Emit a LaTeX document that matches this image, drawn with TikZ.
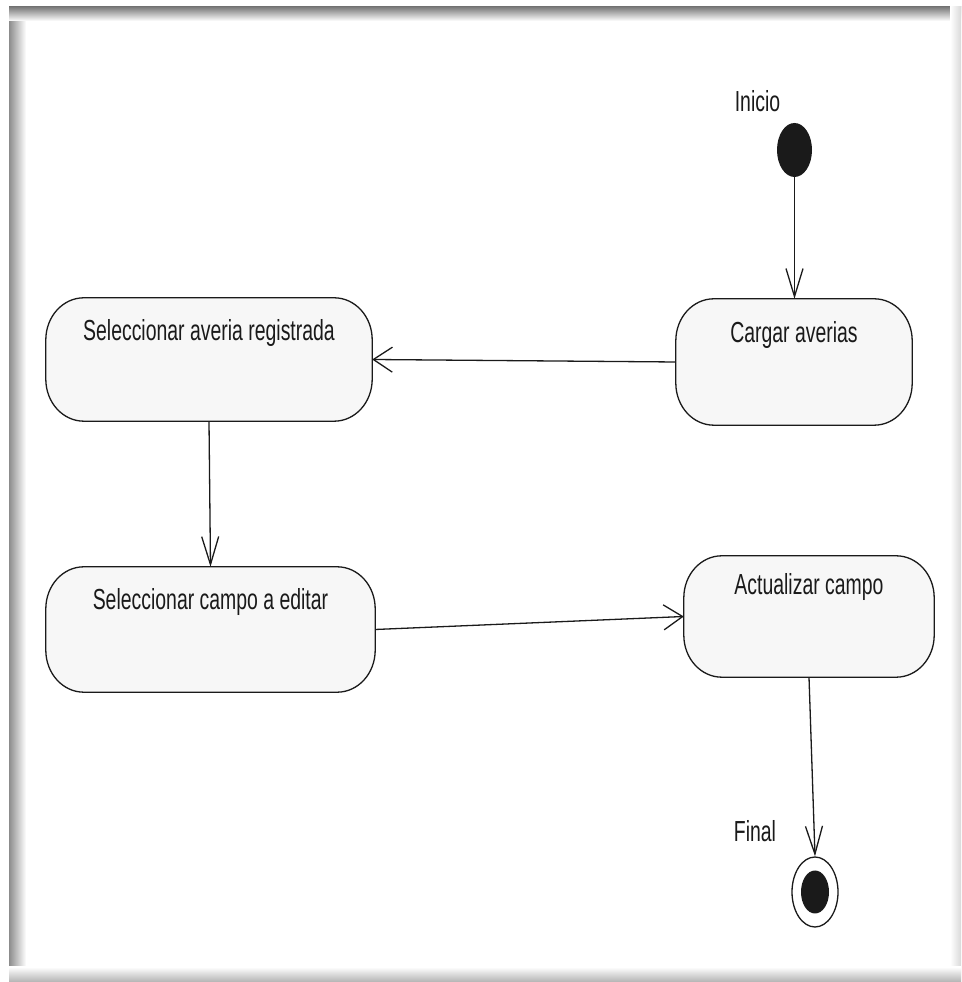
\documentclass[tikz,border=0pt]{standalone}
\usepackage{fontspec}
\setmainfont{Liberation Sans}[FakeStretch=0.67]
\usetikzlibrary{calc,arrows.meta,backgrounds,shapes.geometric}

\definecolor{actfill}{HTML}{F7F7F7}
\definecolor{ink}{HTML}{1A1A1A}

\tikzset{
  actnode/.style={rectangle, draw=none, inner sep=0pt},
  acttext/.style={font=\fontsize{29}{33}\selectfont, text=ink, inner sep=0pt},
  actline/.style={draw=ink, line width=1.3pt, fill=actfill},
  vflow/.style={draw=ink, line width=1.3pt, -{Straight Barb[length=28pt,width=17pt]}},
  hflow/.style={draw=ink, line width=1.3pt, -{Straight Barb[length=19pt,width=25pt]}},
}

% activity outline: flat top and bottom, elliptical ends
\newcommand\actoutline[1]{%
  \path[actline]
    ($(#1.north west)+(38,0)$) -- ($(#1.north east)+(-38,0)$)
    arc[start angle=90,end angle=0,x radius=38,y radius=42]
    -- ($(#1.south east)+(0,42)$)
    arc[start angle=0,end angle=-90,x radius=38,y radius=42]
    -- ($(#1.south west)+(38,0)$)
    arc[start angle=270,end angle=180,x radius=38,y radius=42]
    -- ($(#1.north west)+(0,-42)$)
    arc[start angle=180,end angle=90,x radius=38,y radius=42] -- cycle;}

\begin{document}
\begin{tikzpicture}[x=1pt,y=1pt]
\useasboundingbox (0,0) rectangle (961,982);

% window frame with soft shadow edges
\begin{scope}[on background layer]
  \fill[white] (0,0) rectangle (961,982);
  \shade[left color=black!45, right color=white] (9,0) rectangle (26,975);
  \shade[top color=black!52, bottom color=white] (9,961) rectangle (961,975);
  \shade[left color=white, right color=black!15] (950,0) rectangle (961,975);
  \shade[top color=white, bottom color=black!30] (9,0) rectangle (961,15);
\end{scope}

% activities
\node[actnode, minimum width=326, minimum height=123,
      label={[acttext, anchor=center, yshift=-35pt]north:Seleccionar averia registrada}]
      (sel) at (209,622.5) {};
\node[actnode, minimum width=236, minimum height=126,
      label={[acttext, anchor=center, yshift=-36pt]north:Cargar averias}]
      (cargar) at (794,620) {};
\node[actnode, minimum width=329, minimum height=125,
      label={[acttext, anchor=center, yshift=-35pt]north:Seleccionar campo a editar}]
      (campo) at (210.5,352.5) {};
\node[actnode, minimum width=250, minimum height=121,
      label={[acttext, anchor=center, yshift=-31pt]north:Actualizar campo}]
      (actualizar) at (809,365.5) {};

\begin{scope}[on background layer]
  \actoutline{sel}
  \actoutline{cargar}
  \actoutline{campo}
  \actoutline{actualizar}
\end{scope}

% initial and final states
\node[ellipse, fill=ink, minimum width=35, minimum height=54, inner sep=0pt,
      label={[acttext, anchor=center, xshift=-37pt, yshift=22pt]north:Inicio}]
      (inicio) at (794.5,832) {};
\node[ellipse, draw=ink, line width=1.3pt, fill=white, minimum width=46, minimum height=70, inner sep=0pt,
      label={[acttext, anchor=center, xshift=-60pt, yshift=25pt]north:Final}]
      (final) at (815,90) {};
\node[ellipse, fill=ink, minimum width=28, minimum height=43, inner sep=0pt] (finalcore) at (final.center) {};

% transitions
\draw[vflow] (inicio.south) -- (inicio.south |- cargar.north);
\draw[hflow] (cargar.west) -- (sel.east);
\draw[vflow] (sel.south) -- (campo.north);
\draw[hflow] (campo.east) -- (actualizar.west);
\draw[vflow] (actualizar.south) -- (final.north);
\end{tikzpicture}
\end{document}
